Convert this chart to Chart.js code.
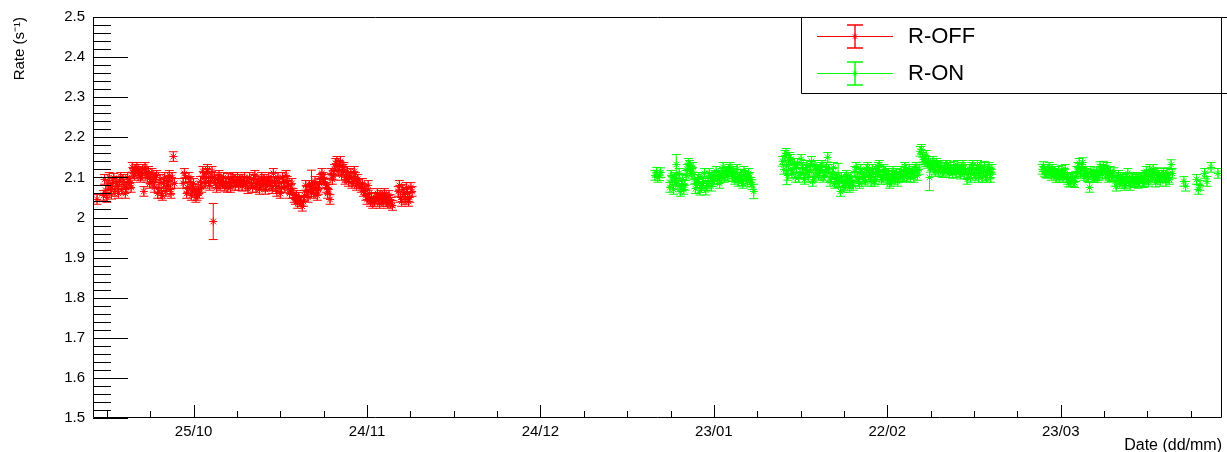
<!DOCTYPE html>
<html>
<head>
<meta charset="utf-8">
<script src="https://cdn.jsdelivr.net/npm/chart.js@4.4.1/dist/chart.umd.min.js"></script>
<style>
  html, body { margin: 0; padding: 0; background: #fff; }
  #wrap { width: 1227px; height: 452px; }
</style>
</head>
<body>
<div id="wrap"><canvas id="rateChart" width="1227" height="452"></canvas></div>
<script>
// x values are days counted from 25/10
const dateTicks = [0, 30, 60, 90, 120, 150];
const dateLabels = ["25/10", "24/11", "24/12", "23/01", "22/02", "23/03"];
const rateTicks = [1.5, 1.6, 1.7, 1.8, 1.9, 2.0, 2.1, 2.2, 2.3, 2.4, 2.5];
const rateLabels = ["1.5", "1.6", "1.7", "1.8", "1.9", "2", "2.1", "2.2", "2.3", "2.4", "2.5"];

// R-OFF: [day, rate]
const offPoints = [
    [-16.7,2.045],[-15.6,2.055],[-15.2,2.068],[-14.8,2.08],[-14.4,2.072],[-14.0,2.085],[-13.6,2.065],
    [-13.2,2.078],[-12.8,2.09],[-12.4,2.07],[-12.0,2.082],[-11.6,2.075],[-11.2,2.09],[-10.8,2.075],
    [-10.4,2.11],[-10.0,2.12],[-9.6,2.115],[-9.2,2.1],[-8.8,2.12],[-8.6,2.065],[-8.2,2.11],[-7.8,2.115],
    [-7.4,2.095],[-7.0,2.09],[-6.6,2.1],[-6.0,2.075],[-5.6,2.06],[-5.2,2.085],[-4.8,2.065],[-4.4,2.09],
    [-4.0,2.07],[-3.7,2.1],[-3.5,2.152],[-3.3,2.085],
    [-1.8,2.085],[-1.4,2.1],[-1.0,2.075],[-0.6,2.09],[-0.2,2.07],[0.2,2.065],[0.6,2.055],[1.0,2.06],
    [1.4,2.075],[1.8,2.1],[2.2,2.11],[2.6,2.09],[3.0,2.1],[3.4,1.99],[3.8,2.085],[4.2,2.095],[4.6,2.08],
    [5.0,2.085],[5.4,2.078],[5.8,2.075],[6.2,2.085],[6.6,2.09],[7.0,2.095],[7.4,2.09],[7.8,2.08],
    [8.2,2.095],[8.6,2.088],[9.0,2.08],[9.4,2.072],[10.0,2.085],[10.4,2.095],[10.8,2.075],[11.2,2.09],
    [11.6,2.08],[12.0,2.085],[12.4,2.07],[12.8,2.09],[13.2,2.08],[13.6,2.072],[14.0,2.09],[14.4,2.065],
    [14.8,2.085],[15.2,2.075],[15.6,2.09],[16.0,2.105],[16.4,2.08],[16.8,2.07],[17.2,2.06],[17.6,2.045],
    [18.0,2.035],[18.4,2.04],[18.8,2.028],[19.2,2.055],[19.6,2.065],[20.0,2.08],[20.4,2.085],[20.8,2.06],
    [21.2,2.075],[21.6,2.07],[22.0,2.095],[22.4,2.1],[22.8,2.085],[23.2,2.06],[23.6,2.045],[24.0,2.095],
    [24.4,2.12],[24.8,2.14],[25.2,2.13],[25.6,2.105],[26.0,2.125],[26.4,2.1],[26.8,2.09],[27.2,2.11],
    [27.6,2.09],[28.0,2.1],[28.4,2.095],[29.0,2.075],[29.4,2.065],[29.8,2.055],[30.2,2.08],[30.6,2.04],
    [31.0,2.035],[31.6,2.05],[32.0,2.045],[32.4,2.055],[32.8,2.04],[33.2,2.05],[33.6,2.035],[34.0,2.045],
    [34.4,2.03],[35.4,2.065],[35.8,2.05],[36.2,2.07],[36.6,2.045],[37.0,2.06],[37.4,2.05],[37.8,2.065],
    // second pass: upper / lower edge of the band
    [-15.4,2.095],[-15.0,2.05],[-14.6,2.1],[-14.2,2.058],[-13.8,2.098],[-13.4,2.09],[-13.0,2.06],
    [-12.6,2.1],[-12.2,2.095],[-11.8,2.06],[-11.4,2.1],[-11.0,2.085],[-10.6,2.125],[-10.2,2.105],
    [-9.8,2.125],[-9.4,2.11],[-9.0,2.105],[-8.4,2.125],[-8.0,2.1],[-7.6,2.085],[-7.2,2.11],[-6.8,2.075],
    [-6.4,2.105],[-6.2,2.06],[-5.8,2.095],[-5.4,2.055],[-5.0,2.1],[-4.6,2.08],[-4.2,2.105],[-3.9,2.06],
    [-1.6,2.11],[-1.2,2.06],[-0.8,2.1],[-0.4,2.055],[0.0,2.085],[0.4,2.05],[0.8,2.07],[1.2,2.09],
    [1.6,2.115],[2.0,2.085],[2.4,2.12],[2.8,2.08],[3.2,2.115],[3.6,2.1],[4.0,2.075],[4.4,2.105],
    [4.8,2.09],[5.2,2.1],[5.6,2.085],[6.0,2.098],[6.4,2.075],[6.8,2.1],[7.2,2.08],[7.6,2.1],[8.0,2.09],
    [8.4,2.078],[8.8,2.1],[9.2,2.09],[9.7,2.1],[10.2,2.075],[10.6,2.105],[11.0,2.085],[11.4,2.07],
    [11.8,2.1],[12.2,2.095],[12.6,2.078],[13.0,2.1],[13.4,2.09],[13.8,2.11],[14.2,2.08],[14.6,2.1],
    [15.0,2.06],[15.4,2.1],[15.8,2.075],[16.2,2.09],[16.6,2.06],[17.0,2.085],[17.4,2.05],[17.8,2.055],
    [18.2,2.05],[18.6,2.04],[19.0,2.04],[19.4,2.08],[19.8,2.05],[20.2,2.07],[20.6,2.075],[21.0,2.09],
    [21.4,2.055],[21.8,2.085],[22.2,2.11],[22.6,2.095],[23.0,2.075],[23.4,2.07],[23.8,2.11],[24.2,2.105],
    [24.6,2.135],[25.0,2.115],[25.4,2.14],[25.8,2.12],[26.2,2.095],[26.6,2.115],[27.0,2.1],[27.4,2.085],
    [27.8,2.115],[28.2,2.08],[28.6,2.085],[29.2,2.085],[29.6,2.07],[30.0,2.045],[30.4,2.06],[30.8,2.05],
    [31.3,2.04],[31.8,2.06],[32.2,2.035],[32.6,2.045],[33.0,2.06],[33.4,2.04],[33.8,2.055],[34.2,2.038],
    [35.6,2.08],[36.0,2.04],[36.4,2.058],[36.8,2.075],[37.2,2.04],[37.6,2.075]
];
const offErr = 0.012;
const offBigErr = [[3.4, 0.045], [20.4, 0.033]];

// R-ON: [day, rate]
const onPoints = [
    [79.8,2.105],[80.3,2.1],[80.8,2.112],
    [82.4,2.075],[82.8,2.09],[83.2,2.1],[83.5,2.132],[83.8,2.085],[84.2,2.065],[84.6,2.095],[85.0,2.08],
    [85.4,2.12],[85.8,2.13],[86.2,2.11],[86.6,2.095],[87.0,2.085],[87.4,2.1],[87.8,2.075],[88.2,2.09],
    [88.6,2.068],[89.0,2.085],[89.4,2.1],[89.8,2.09],[90.2,2.105],[90.6,2.095],[91.0,2.085],[91.4,2.11],
    [91.8,2.1],[92.2,2.115],[92.6,2.12],[93.0,2.11],[93.4,2.115],[93.8,2.1],[94.2,2.09],[94.6,2.108],
    [95.0,2.085],[95.4,2.105],[95.8,2.09],[96.2,2.1],[96.6,2.082],[96.9,2.065],
    [101.9,2.14],[102.3,2.155],[102.6,2.11],[102.9,2.13],[103.3,2.145],[103.7,2.12],[104.1,2.1],
    [104.5,2.135],[104.9,2.11],[105.3,2.125],[105.7,2.095],[106.1,2.13],[106.5,2.115],[106.9,2.14],
    [107.3,2.1],[107.7,2.12],[108.1,2.105],[108.5,2.125],[108.9,2.1],[109.3,2.115],[109.7,2.15],
    [110.1,2.09],[110.5,2.11],[110.9,2.085],[111.3,2.1],[111.5,2.105],[111.9,2.065],[112.3,2.09],
    [112.7,2.08],[113.1,2.095],[113.5,2.075],[113.9,2.09],[114.4,2.115],[114.8,2.1],[115.2,2.085],
    [115.6,2.11],[116.0,2.095],[116.4,2.12],[116.8,2.105],[117.2,2.09],[117.6,2.11],[118.0,2.095],
    [118.4,2.125],[118.8,2.105],[119.2,2.1],[119.6,2.115],[120.0,2.095],[120.4,2.085],[120.8,2.105],
    [121.2,2.095],[121.6,2.11],[122.0,2.1],[122.4,2.115],[122.8,2.105],[123.2,2.12],[123.6,2.11],
    [124.0,2.1],[124.4,2.115],[124.8,2.12],[125.2,2.105],[125.7,2.165],[126.1,2.15],[126.5,2.14],
    [126.9,2.135],[127.3,2.1],[127.7,2.13],[128.1,2.12],[128.5,2.135],[128.9,2.115],[129.3,2.125],
    [129.7,2.115],[130.1,2.13],[130.5,2.118],[130.9,2.125],[131.3,2.11],[131.7,2.12],[132.1,2.13],
    [132.5,2.115],[132.9,2.125],[133.3,2.11],[133.8,2.095],[134.2,2.12],[134.6,2.125],[135.0,2.11],
    [135.4,2.12],[135.8,2.1],[136.2,2.125],[136.6,2.115],[137.0,2.105],[137.4,2.12],[137.8,2.11],
    [138.1,2.12],
    [146.8,2.12],[147.2,2.115],[147.6,2.11],[148.0,2.125],[148.4,2.105],[148.8,2.11],[149.2,2.1],
    [149.6,2.115],[150.0,2.105],[150.4,2.1],[150.8,2.12],[151.2,2.095],[151.6,2.09],[152.0,2.1],
    [152.4,2.087],[152.8,2.115],[153.2,2.135],[153.6,2.12],[154.0,2.105],[154.4,2.11],[154.8,2.1],
    [155.0,2.075],[155.4,2.108],[155.8,2.1],[156.2,2.112],[156.6,2.105],[157.0,2.12],[157.4,2.128],
    [157.8,2.11],[158.2,2.1],[158.6,2.115],[159.0,2.105],[159.4,2.09],[159.8,2.1],[160.2,2.085],
    [160.6,2.095],[161.0,2.08],[161.4,2.098],[161.8,2.09],[162.2,2.1],[162.6,2.09],[163.0,2.095],
    [163.4,2.085],[163.8,2.1],[164.2,2.09],[164.6,2.105],[165.0,2.095],[165.4,2.12],[165.8,2.1],
    [166.2,2.11],[166.6,2.095],[167.0,2.105],[167.4,2.1],[167.8,2.11],[168.2,2.09],[168.6,2.1],
    [169.1,2.132],[169.3,2.11],[171.3,2.09],[171.6,2.078],[173.5,2.095],[173.8,2.07],[174.1,2.08],
    [174.9,2.11],[175.3,2.09],[176.0,2.125],[177.2,2.11],
    // second pass: upper / lower edge of the band
    [80.1,2.113],[80.6,2.104],
    [82.6,2.105],[83.0,2.07],[83.4,2.092],[84.0,2.11],[84.4,2.08],[84.8,2.07],[85.2,2.105],[85.6,2.135],
    [86.0,2.115],[86.4,2.125],[86.8,2.072],[87.2,2.095],[87.6,2.068],[88.0,2.085],[88.4,2.11],[88.8,2.08],
    [89.2,2.11],[89.6,2.078],[90.0,2.095],[90.4,2.115],[90.8,2.105],[91.2,2.1],[91.6,2.125],[92.0,2.105],
    [92.4,2.103],[92.8,2.125],[93.2,2.102],[93.6,2.095],[94.0,2.12],[94.4,2.1],[94.8,2.092],[95.2,2.115],
    [95.6,2.095],[96.0,2.11],[96.4,2.088],
    [102.1,2.12],[102.5,2.16],[102.8,2.105],[103.1,2.15],[103.5,2.11],[103.9,2.135],[104.3,2.125],
    [104.7,2.1],[105.1,2.145],[105.5,2.11],[105.9,2.12],[106.3,2.1],[106.7,2.13],[107.1,2.09],[107.5,2.13],
    [107.9,2.11],[108.3,2.115],[108.7,2.13],[109.1,2.105],[109.5,2.125],[109.9,2.12],[110.3,2.1],
    [110.7,2.125],[111.1,2.095],[111.7,2.09],[112.1,2.1],[112.5,2.075],[112.9,2.105],[113.3,2.085],
    [113.7,2.1],[114.1,2.08],[114.6,2.125],[115.0,2.09],[115.4,2.12],[115.8,2.1],[116.2,2.09],[116.6,2.125],
    [117.0,2.1],[117.4,2.12],[117.8,2.09],[118.2,2.115],[118.6,2.13],[119.0,2.095],[119.4,2.12],
    [119.8,2.105],[120.2,2.11],[120.6,2.09],[121.0,2.115],[121.4,2.1],[121.8,2.09],[122.2,2.108],
    [122.6,2.1],[123.0,2.125],[123.4,2.102],[123.8,2.12],[124.2,2.108],[124.6,2.1],[125.0,2.125],
    [125.5,2.12],[125.9,2.17],[126.3,2.145],[126.7,2.155],[127.1,2.14],[127.5,2.125],[127.9,2.14],
    [128.3,2.115],[128.7,2.128],[129.1,2.13],[129.5,2.112],[129.9,2.122],[130.3,2.13],[130.7,2.112],
    [131.1,2.12],[131.5,2.128],[131.9,2.112],[132.3,2.12],[132.7,2.108],[133.1,2.13],[133.5,2.12],
    [134.0,2.11],[134.4,2.1],[134.8,2.13],[135.2,2.105],[135.6,2.13],[136.0,2.11],[136.4,2.1],
    [136.8,2.128],[137.2,2.1],[137.6,2.125],[137.9,2.1],
    [147.0,2.127],[147.4,2.112],[147.8,2.12],[148.2,2.113],[148.6,2.12],[149.0,2.115],[149.4,2.108],
    [149.8,2.1],[150.2,2.118],[150.6,2.11],[151.0,2.1],[151.4,2.088],[151.8,2.098],[152.2,2.09],
    [152.6,2.102],[153.0,2.125],[153.4,2.11],[153.8,2.137],[154.2,2.115],[154.6,2.102],[155.2,2.115],
    [155.6,2.1],[156.0,2.105],[156.4,2.1],[156.8,2.127],[157.2,2.108],[157.6,2.118],[158.0,2.125],
    [158.4,2.105],[158.8,2.102],[159.2,2.112],[159.6,2.078],[160.0,2.105],[160.4,2.09],[160.8,2.1],
    [161.2,2.085],[161.6,2.11],[162.0,2.08],[162.4,2.098],[162.8,2.087],[163.2,2.1],[163.6,2.09],
    [164.0,2.098],[164.4,2.087],[164.8,2.115],[165.2,2.09],[165.6,2.105],[166.0,2.12],[166.4,2.088],
    [166.8,2.112],[167.2,2.09],[167.6,2.105],[168.0,2.1],[168.4,2.112],[168.8,2.095]
];
const onErr = 0.012;
const onBigErr = [[83.5, 0.025], [96.9, 0.018], [102.6, 0.028], [111.5, 0.03], [127.3, 0.033]];

const FONT = "'Liberation Sans', Arial, Helvetica, sans-serif";

function withErrors(points, err, big) {
    return points.map(p => {
        const hit = big.find(b => b[0] === p[0]);
        return { x: p[0], y: p[1], err: hit ? hit[1] : err };
    });
}

// vertical error bars with end caps
const errorBars = {
    id: "errorBars",
    beforeDatasetsDraw(chart) {
        const { ctx, chartArea: a, scales: { x, y } } = chart;
        ctx.save();
        ctx.beginPath();
        ctx.rect(a.left, a.top, a.width, a.height);
        ctx.clip();
        chart.data.datasets.forEach(ds => {
            ctx.strokeStyle = ds.borderColor;
            ctx.lineWidth = 1;
            ctx.beginPath();
            ds.data.forEach(p => {
                const px = x.getPixelForValue(p.x);
                const top = y.getPixelForValue(p.y + p.err);
                const bot = y.getPixelForValue(p.y - p.err);
                ctx.moveTo(px, top); ctx.lineTo(px, bot);
                ctx.moveTo(px - 4.5, top); ctx.lineTo(px + 4.5, top);
                ctx.moveTo(px - 4.5, bot); ctx.lineTo(px + 4.5, bot);
            });
            ctx.stroke();
        });
        ctx.restore();
    }
};

// ROOT style frame with inward ticks + legend box
const rootFrame = {
    id: "rootFrame",
    afterDraw(chart) {
        const { ctx, chartArea: a, scales: { x, y } } = chart;
        ctx.save();
        ctx.strokeStyle = "#000";
        ctx.lineWidth = 1;
        ctx.beginPath();
        ctx.rect(a.left + 0.5, a.top + 0.5, a.width - 1, a.height - 1);
        ctx.stroke();

        ctx.beginPath();
        // y ticks: major 0.1, minor 0.02
        for (let i = 0; i <= 50; i++) {
            const py = Math.round(y.getPixelForValue(y.min + i * 0.02)) + 0.5;
            const len = i % 5 === 0 ? 35 : 18;
            ctx.moveTo(a.left, py); ctx.lineTo(a.left + len, py);
        }
        // x ticks: major 30 days, minor 7.5 days
        for (let k = Math.ceil(x.min / 7.5); k <= Math.floor(x.max / 7.5); k++) {
            const px = Math.round(x.getPixelForValue(k * 7.5)) + 0.5;
            const len = k % 4 === 0 ? 13 : 7;
            ctx.moveTo(px, a.bottom); ctx.lineTo(px, a.bottom - len);
        }
        ctx.stroke();

        // legend
        const lx = 801, ly = 17, lw = 428, lh = 76;
        ctx.beginPath();
        ctx.rect(lx + 0.5, ly + 0.5, lw, lh);
        ctx.stroke();
        chart.data.datasets.forEach((ds, i) => {
            const cy = ly + 19 + i * 37;
            const cx = 855;
            ctx.strokeStyle = ds.borderColor;
            ctx.lineWidth = 1;
            ctx.beginPath();
            ctx.moveTo(817, cy + 0.5); ctx.lineTo(893, cy + 0.5);
            ctx.stroke();
            ctx.lineWidth = 1.4;
            ctx.beginPath();
            ctx.moveTo(cx, cy - 11); ctx.lineTo(cx, cy + 12);
            ctx.moveTo(cx - 8, cy - 11); ctx.lineTo(cx + 8, cy - 11);
            ctx.moveTo(cx - 8, cy + 12); ctx.lineTo(cx + 8, cy + 12);
            ctx.stroke();
            ctx.lineWidth = 1;
            Chart.helpers.drawPoint(ctx, { pointStyle: "star", radius: 3, borderWidth: 1 }, cx, cy + 0.5);
            ctx.fillStyle = "#000";
            ctx.font = "22px " + FONT;
            ctx.textAlign = "left";
            ctx.textBaseline = "middle";
            ctx.fillText(ds.label, 908, cy + 1);
        });
        ctx.restore();
    }
};

new Chart(document.getElementById("rateChart"), {
    type: "scatter",
    data: {
        datasets: [
            {
                label: "R-OFF",
                data: withErrors(offPoints, offErr, offBigErr),
                borderColor: "#ff0000",
                backgroundColor: "#ff0000",
                pointStyle: "star",
                pointRadius: 4,
                pointBorderWidth: 1,
                showLine: false
            },
            {
                label: "R-ON",
                data: withErrors(onPoints, onErr, onBigErr),
                borderColor: "#00ff00",
                backgroundColor: "#00ff00",
                pointStyle: "star",
                pointRadius: 4,
                pointBorderWidth: 1,
                showLine: false
            }
        ]
    },
    options: {
        responsive: false,
        animation: false,
        devicePixelRatio: 1,
        layout: { padding: { top: 17, right: 1, left: 0, bottom: 0 } },
        plugins: {
            legend: { display: false },
            tooltip: { enabled: false }
        },
        scales: {
            x: {
                type: "linear",
                min: -17.4,
                max: 177.9,
                afterBuildTicks: s => { s.ticks = dateTicks.map(v => ({ value: v })); },
                afterFit: s => { s.height = 34; },
                grid: { display: false, drawTicks: false },
                border: { display: false },
                ticks: {
                    callback: (v, i) => dateLabels[i],
                    autoSkip: false,
                    maxRotation: 0,
                    padding: 5,
                    color: "#000",
                    font: { family: FONT, size: 15 }
                },
                title: {
                    display: true,
                    text: "Date (dd/mm)",
                    align: "end",
                    color: "#000",
                    font: { family: FONT, size: 16, lineHeight: 1 },
                    padding: { top: 0, bottom: -1.5 }
                }
            },
            y: {
                min: 1.5,
                max: 2.5,
                afterBuildTicks: s => { s.ticks = rateTicks.map(v => ({ value: v })); },
                afterFit: s => { s.width = 93; },
                grid: { display: false, drawTicks: false },
                border: { display: false },
                ticks: {
                    callback: (v, i) => rateLabels[i],
                    padding: 8,
                    color: "#000",
                    font: { family: FONT, size: 15 }
                },
                title: {
                    display: true,
                    text: "Rate (s⁻¹)",
                    align: "end",
                    color: "#000",
                    font: { family: FONT, size: 15 },
                    padding: { top: 11, bottom: 0 }
                }
            }
        }
    },
    plugins: [errorBars, rootFrame]
});
</script>
</body>
</html>
